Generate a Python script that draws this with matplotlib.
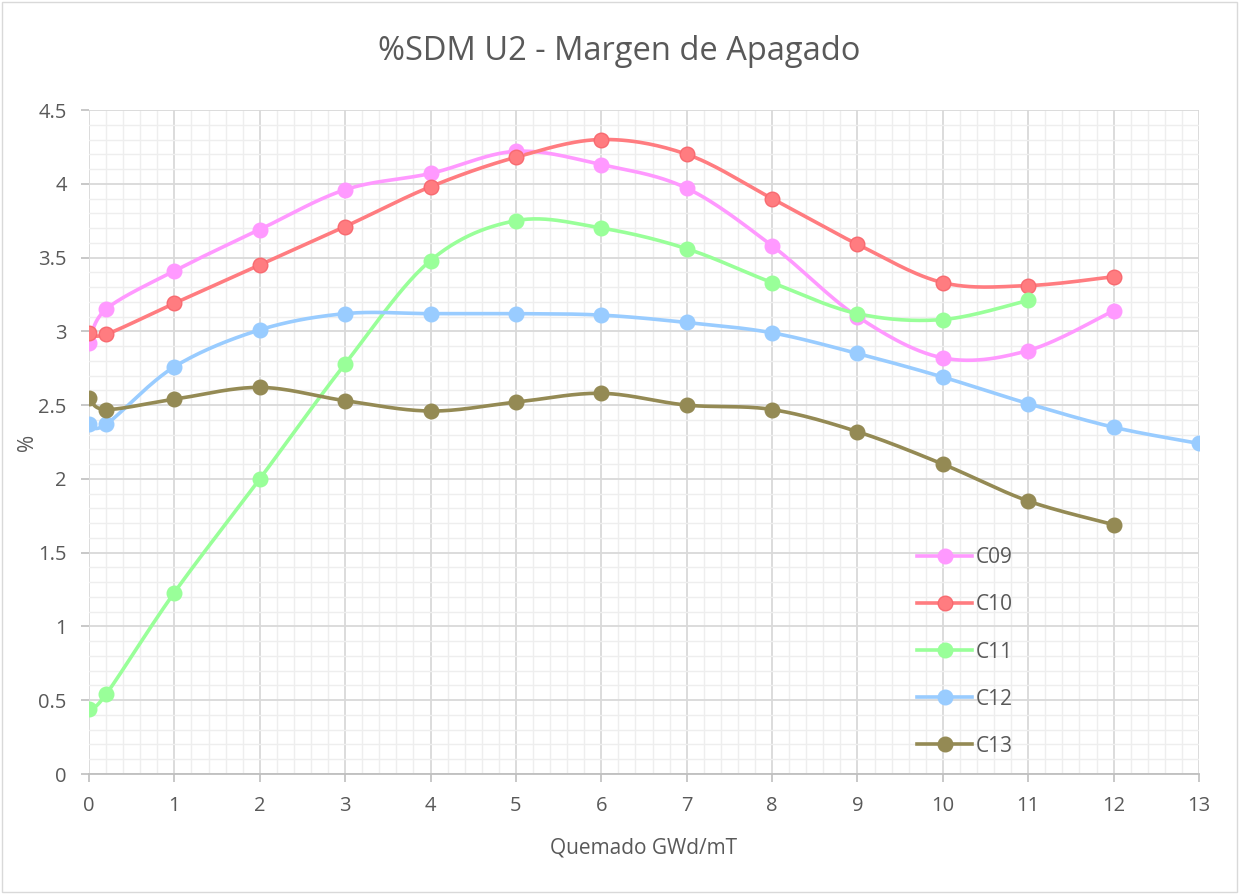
import numpy as np
import matplotlib
matplotlib.use("Agg")
import matplotlib.pyplot as plt
from matplotlib.ticker import MultipleLocator
from matplotlib.patches import Rectangle

plt.rcParams['font.family'] = ['Open Sans', 'DejaVu Sans']

x_std = [0, 0.2, 1, 2, 3, 4, 5, 6, 7, 8, 9, 10, 11, 12]
x_c12 = [0, 0.2, 1, 2, 3, 4, 5, 6, 7, 8, 9, 10, 11, 12, 13]
x_c11 = [0, 0.2, 1, 2, 3, 4, 5, 6, 7, 8, 9, 10, 11]

c09 = [2.92, 3.15, 3.41, 3.69, 3.96, 4.07, 4.22, 4.13, 3.97, 3.58, 3.10, 2.82, 2.87, 3.14]
c10 = [2.99, 2.98, 3.19, 3.45, 3.71, 3.98, 4.18, 4.30, 4.20, 3.90, 3.59, 3.33, 3.31, 3.37]
c11 = [0.44, 0.54, 1.23, 2.00, 2.78, 3.48, 3.75, 3.70, 3.56, 3.33, 3.12, 3.08, 3.21]
c12 = [2.37, 2.37, 2.76, 3.01, 3.12, 3.12, 3.12, 3.11, 3.06, 2.99, 2.85, 2.69, 2.51, 2.35, 2.24]
c13 = [2.55, 2.47, 2.54, 2.62, 2.53, 2.46, 2.52, 2.58, 2.50, 2.47, 2.32, 2.10, 1.85, 1.69]

series = [
    ("C09", x_std, c09, "#FF99FF", "#FF99FF"),
    ("C10", x_std, c10, "#FF7C80", "#F86A70"),
    ("C11", x_c11, c11, "#99FF99", "#99FF99"),
    ("C12", x_c12, c12, "#99CCFF", "#99CCFF"),
    ("C13", x_std, c13, "#948A54", "#948A54"),
]

title = "%SDM U2 - Margen de Apagado"
xlabel = "Quemado GWd/mT"
ylabel = "%"


def smooth(xs, ys, n=30):
    xs = np.asarray(xs, float)
    ys = np.asarray(ys, float)
    P = np.column_stack([xs, ys])
    out = [P[0]]
    m = len(P)
    for i in range(m - 1):
        p0 = P[i - 1] if i > 0 else P[i]
        p1 = P[i]
        p2 = P[i + 1]
        p3 = P[i + 2] if i + 2 < m else P[i + 1]
        b1 = p1 + (p2 - p0) / 6.0
        b2 = p2 - (p3 - p1) / 6.0
        t = np.linspace(0, 1, n)[1:, None]
        seg = ((1 - t) ** 3) * p1 + 3 * ((1 - t) ** 2) * t * b1 + 3 * (1 - t) * t ** 2 * b2 + t ** 3 * p2
        out.extend(seg)
    out = np.array(out)
    return out[:, 0], out[:, 1]


fig = plt.figure(figsize=(12.39, 8.94), dpi=100)
fig.patches.append(Rectangle((0.0015, 0.002), 0.997, 0.996, transform=fig.transFigure,
                             fill=False, edgecolor="#D9D9D9", linewidth=1))
ax = fig.add_axes([89 / 1239, 1 - 774 / 894, (1199 - 89) / 1239, (774 - 110) / 894])

for name, xs, ys, col, ecol in series:
    sx, sy = smooth(xs, ys)
    ax.plot(sx, sy, color=col, linewidth=2.6, zorder=3, solid_capstyle="round")
    ax.plot(xs, ys, linestyle="none", marker="o", markersize=10.5, markerfacecolor=col,
            markeredgecolor=ecol, markeredgewidth=1, zorder=4)
    ax.plot([], [], color=col, linewidth=2.6, marker="o", markersize=10.5,
            markerfacecolor=col, markeredgecolor=ecol, label=name)

ax.set_xlim(0, 13)
ax.set_ylim(0, 4.5)
ax.xaxis.set_major_locator(MultipleLocator(1))
ax.xaxis.set_minor_locator(MultipleLocator(0.2))
ax.yaxis.set_major_locator(MultipleLocator(0.5))
ax.yaxis.set_minor_locator(MultipleLocator(0.1))
ax.set_yticks(np.arange(0, 4.51, 0.5))
ax.set_yticklabels(["0", "0.5", "1", "1.5", "2", "2.5", "3", "3.5", "4", "4.5"])

ax.grid(which="major", color="#D9D9D9", linewidth=1.3, zorder=1)
ax.grid(which="minor", color="#EEEEEE", linewidth=1.0, zorder=0)
ax.set_axisbelow(True)
for s in ["top", "right", "left"]:
    ax.spines[s].set_visible(False)
ax.spines["bottom"].set_color("#BFBFBF")
ax.spines["bottom"].set_linewidth(1.3)
ax.tick_params(which="major", axis="x", length=6, color="#BFBFBF", width=1.2,
               labelsize=14.5, labelcolor="#595959", pad=10)
ax.tick_params(which="major", axis="y", length=6, color="#BFBFBF", width=1.2,
               labelsize=14.5, labelcolor="#595959", pad=10)
ax.tick_params(which="minor", length=0)

ax.set_xlabel(xlabel, fontsize=15, color="#595959", labelpad=15)
ax.set_ylabel(ylabel, fontsize=15, color="#595959", labelpad=0)
fig.text(0.5, 1 - 51 / 894, title, ha="center", va="center", fontsize=23.5, color="#595959")

leg = ax.legend(loc="upper left", bbox_to_anchor=(907 / 1239, 1 - 537 / 894),
                bbox_transform=fig.transFigure, frameon=False, fontsize=15,
                labelspacing=1.25, handlelength=2.6, handletextpad=0.2, borderpad=0)
for t in leg.get_texts():
    t.set_color("#595959")

fig.savefig("out.png", dpi=100)
